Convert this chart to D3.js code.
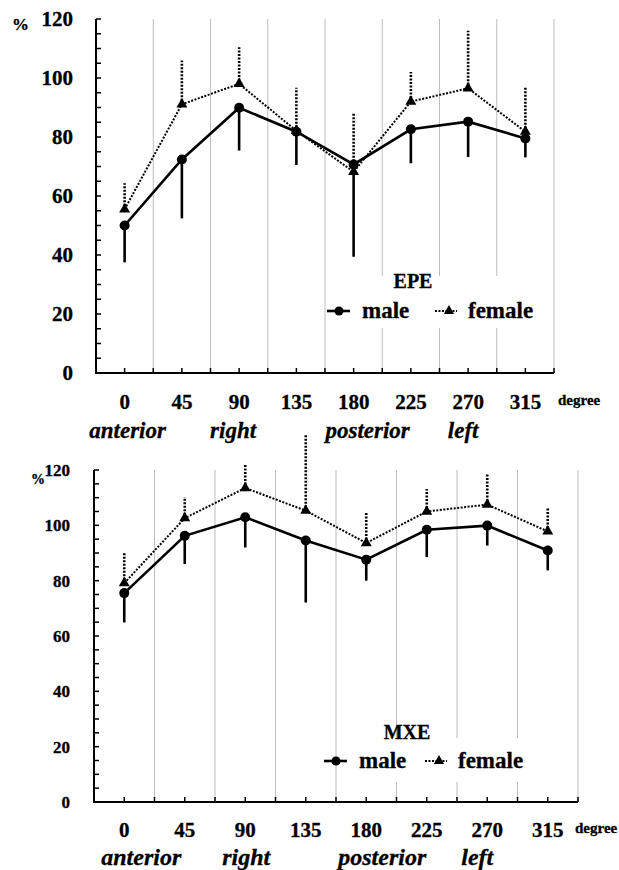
<!DOCTYPE html>
<html>
<head>
<meta charset="utf-8">
<script src="https://cdn.jsdelivr.net/npm/d3@7"></script>
<style>
  body { margin: 0; background: #fff; }
  svg { display: block; }
  text { font-family: "Liberation Serif", "DejaVu Serif", serif; stroke: #000; stroke-width: 0.3; }
  .grid { stroke: #bdbdbd; stroke-width: 1; }
  .axis { stroke: #000; stroke-width: 2; fill: none; }
  .maleLine { fill: none; stroke: #000; stroke-width: 2.6; }
  .femaleLine { fill: none; stroke: #000; stroke-width: 2; stroke-dasharray: 2,1.5; }
</style>
</head>
<body>
<svg id="chart" width="619" height="870"></svg>
<script>
//Categories along the x axis (degrees) and the direction words under them.
let degrees = [0, 45, 90, 135, 180, 225, 270, 315];
let directions = ['anterior', 'right', 'posterior', 'left'];
let directionDegrees = [0, 90, 180, 270];
let yTicks = [0, 20, 40, 60, 80, 100, 120];

//EPE panel - means and one-sided SD bars (male down, female up).
let epeMale = [50, 72.4, 89.9, 81.8, 70.7, 82.6, 85.2, 79.5];
let epeMaleSD = [12.5, 20, 14.5, 11.3, 31.3, 11.5, 12, 6.4];
let epeFemale = [55.5, 91.1, 98, 82.1, 68.2, 92, 96.5, 81.8];
let epeFemaleSD = [8.8, 14.8, 12.4, 14.6, 20.2, 10, 19.5, 14.9];

//MXE panel.
let mxeMale = [75.5, 96.2, 102.9, 94.5, 87.6, 98.4, 99.9, 90.9];
let mxeMaleSD = [10.6, 10.2, 10.9, 22.4, 7.6, 9.9, 7.2, 7.2];
let mxeFemale = [79.1, 102.6, 113.5, 105.3, 93.6, 105, 107.5, 97.8];
let mxeFemaleSD = [11.1, 7.6, 8.4, 27.4, 11.4, 8.1, 11, 8.4];

let svg = d3.select('#chart');

//Draws one panel. p holds the layout for that panel.
function panel(p) {
  let g = svg.append('g');

  let x = d3.scaleBand().domain(degrees).range([p.left, p.right]);
  let cx = d => x(d) + x.bandwidth() / 2;
  let y = d3.scaleLinear().domain([0, 120]).range([p.bottom, p.top]);

  //Vertical gridlines between the categories.
  g.selectAll('.grid')
    .data(degrees)
    .join('line')
    .attr('class', 'grid')
    .attr('x1', d => x(d) + x.bandwidth())
    .attr('x2', d => x(d) + x.bandwidth())
    .attr('y1', y(120))
    .attr('y2', y(0));

  //White box behind the legend hides the gridlines.
  g.append('rect')
    .attr('x', p.legend.box[0]).attr('y', p.legend.box[1])
    .attr('width', p.legend.box[2]).attr('height', p.legend.box[3])
    .attr('fill', '#fff');

  //Axes.
  g.append('path').attr('class', 'axis')
    .attr('d', `M${p.left},${y(120)}V${y(0)}H${p.right}`);

  //Minor ticks on y every 5, pointing inward.
  g.selectAll('.ytick')
    .data(d3.range(0, 121, 5))
    .join('line')
    .attr('stroke', '#000').attr('stroke-width', 1.5)
    .attr('x1', p.left).attr('x2', p.left + 5)
    .attr('y1', d => y(d)).attr('y2', d => y(d));

  //x ticks at the centre and edge of each category.
  let halfSteps = degrees.flatMap(d => [cx(d), x(d) + x.bandwidth()]);
  g.selectAll('.xtick')
    .data(halfSteps)
    .join('line')
    .attr('stroke', '#000').attr('stroke-width', 1.5)
    .attr('x1', d => d).attr('x2', d => d)
    .attr('y1', y(0)).attr('y2', y(0) - 5);

  //y tick labels
  g.selectAll('.ylab')
    .data(yTicks)
    .join('text')
    .attr('x', p.yLabX)
    .attr('y', d => y(d))
    .attr('dy', '0.35em')
    .attr('text-anchor', 'end')
    .style('font-weight', 'bold')
    .style('font-size', p.yFont + 'px')
    .text(d => d);

  g.append('text').attr('x', p.pct[0]).attr('y', p.pct[1])
    .style('font-weight', 'bold').style('font-size', p.pct[2] + 'px').text('%');

  //x tick labels
  g.selectAll('.xlab')
    .data(degrees)
    .join('text')
    .attr('x', d => cx(d))
    .attr('y', p.xLabY)
    .attr('text-anchor', 'middle')
    .style('font-weight', 'bold')
    .style('font-size', p.xFont + 'px')
    .text(d => d);

  g.append('text').attr('x', p.degree[0]).attr('y', p.degree[1])
    .style('font-weight', 'bold').style('font-size', '15px').text('degree');

  //Direction words in italics.
  g.selectAll('.dir')
    .data(directions)
    .join('text')
    .attr('x', (d, i) => cx(directionDegrees[i]) + p.dirShift[i])
    .attr('y', p.dirY)
    .attr('text-anchor', 'middle')
    .style('font-weight', 'bold')
    .style('font-style', 'italic')
    .style('font-size', p.dirFont + 'px')
    .text(d => d);

  let rows = degrees.map((d, i) => ({
    d: d, m: p.male[i], mSD: p.maleSD[i], f: p.female[i], fSD: p.femaleSD[i]
  }));

  //Error bars: male goes down, female goes up.
  g.selectAll('.mbar')
    .data(rows)
    .join('line')
    .attr('class', 'maleLine')
    .attr('x1', d => cx(d.d)).attr('x2', d => cx(d.d))
    .attr('y1', d => y(d.m)).attr('y2', d => y(d.m - d.mSD));

  g.selectAll('.fbar')
    .data(rows)
    .join('line')
    .attr('class', 'femaleLine')
    .style('stroke-width', 2.6)
    .attr('x1', d => cx(d.d)).attr('x2', d => cx(d.d))
    .attr('y1', d => y(d.f)).attr('y2', d => y(d.f + d.fSD));

  //The two series lines.
  g.append('path').attr('class', 'femaleLine')
    .attr('d', d3.line().x(d => cx(d.d)).y(d => y(d.f))(rows));
  g.append('path').attr('class', 'maleLine')
    .attr('d', d3.line().x(d => cx(d.d)).y(d => y(d.m))(rows));

  let tri = d3.symbol(d3.symbolTriangle).size(52);
  g.selectAll('.tri')
    .data(rows)
    .join('path')
    .attr('d', tri)
    .attr('transform', d => `translate(${cx(d.d)},${y(d.f)})`);

  g.selectAll('.dot')
    .data(rows)
    .join('circle')
    .attr('cx', d => cx(d.d))
    .attr('cy', d => y(d.m))
    .attr('r', 5);

  //Legend.
  let L = p.legend;
  g.append('text').attr('x', L.titleX).attr('y', L.titleY)
    .attr('text-anchor', 'middle')
    .style('font-weight', 'bold').style('font-size', '20px').text(L.title);
  g.append('line').attr('class', 'maleLine')
    .attr('x1', L.maleX).attr('x2', L.maleX + 23).attr('y1', L.symY).attr('y2', L.symY);
  g.append('circle').attr('cx', L.maleX + 12).attr('cy', L.symY).attr('r', 4.5);
  g.append('text').attr('x', L.maleX + 35).attr('y', L.textY)
    .style('font-weight', 'bold').style('font-size', '23px').text('male');
  g.append('line').attr('class', 'femaleLine')
    .attr('x1', L.femaleX).attr('x2', L.femaleX + 22).attr('y1', L.symY).attr('y2', L.symY);
  g.append('path').attr('d', d3.symbol(d3.symbolTriangle).size(45))
    .attr('transform', `translate(${L.femaleX + 14},${L.symY})`);
  g.append('text').attr('x', L.femaleX + 33).attr('y', L.textY)
    .style('font-weight', 'bold').style('font-size', '23px').text('female');
}

panel({
  left: 96, right: 554, top: 19, bottom: 373,
  male: epeMale, maleSD: epeMaleSD, female: epeFemale, femaleSD: epeFemaleSD,
  yLabX: 73, yFont: 21, pct: [12, 30, 17],
  xLabY: 409, xFont: 21, degree: [558, 405],
  dirY: 438, dirFont: 23, dirShift: [3, -6, 14, -5],
  legend: { box: [327, 276, 218, 52], title: 'EPE', titleX: 413, titleY: 288,
            maleX: 327, femaleX: 435, symY: 311, textY: 318 }
});

panel({
  left: 94, right: 578, top: 470, bottom: 802,
  male: mxeMale, maleSD: mxeMaleSD, female: mxeFemale, femaleSD: mxeFemaleSD,
  yLabX: 70, yFont: 17, pct: [31, 484, 14],
  xLabY: 837, xFont: 21, degree: [575, 833],
  dirY: 865, dirFont: 24, dirShift: [17, 1, 16, -10],
  legend: { box: [339, 738, 200, 44], title: 'MXE', titleX: 407, titleY: 739,
            maleX: 324, femaleX: 425, symY: 761, textY: 768 }
});
</script>
</body>
</html>
